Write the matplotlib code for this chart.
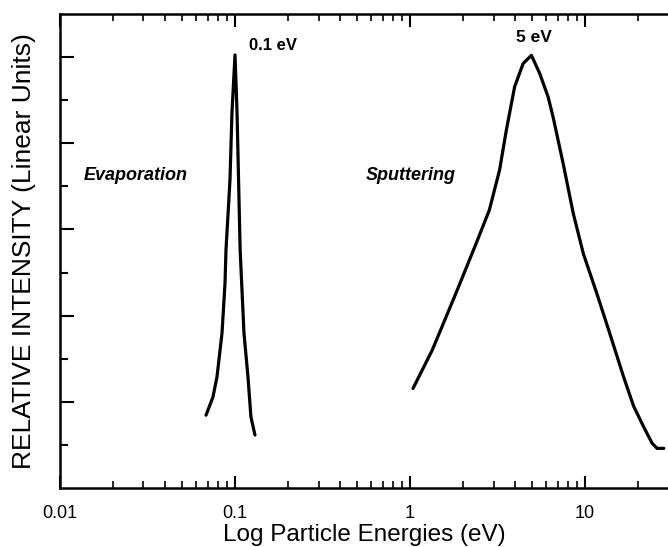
import numpy as np
import matplotlib.pyplot as plt
from matplotlib.ticker import FixedLocator, LogLocator, NullFormatter

plt.rcParams['font.family'] = ['Liberation Sans', 'DejaVu Sans']

# ---------- data ----------
evap_energy = [0.0683, 0.0748, 0.0789, 0.0843, 0.0877, 0.0888, 0.0936, 0.0961, 0.1000,
               0.1027, 0.1070, 0.1125, 0.1186, 0.1233, 0.1300]
evap_intensity = [1.69, 2.11, 2.58, 3.60, 4.76, 5.52, 7.15, 8.72, 10.05,
                  8.72, 5.52, 3.60, 2.58, 1.65, 1.23]

sput_energy = [1.04, 1.34, 1.83, 2.39, 2.84, 3.25, 3.55, 3.96, 4.43, 4.94,
               5.51, 6.15, 6.57, 7.50, 8.57, 9.78, 11.67, 13.92, 16.61,
               18.95, 21.63, 24.17, 25.8, 28.2]
sput_intensity = [2.31, 3.20, 4.52, 5.68, 6.45, 7.38, 8.30, 9.31, 9.85, 10.04,
                  9.62, 9.08, 8.61, 7.53, 6.37, 5.44, 4.52, 3.56, 2.58,
                  1.90, 1.42, 1.04, 0.92, 0.92]

xtick_vals = [0.01, 0.1, 1, 10]
xtick_labels = ["0.01", "0.1", "1", "10"]
y_major = [2, 4, 6, 8, 10]
y_minor = [1, 3, 5, 7, 9]

# ---------- plot ----------
fig = plt.figure(figsize=(6.68, 5.47), dpi=100)
ax = fig.add_axes([60 / 668, 59 / 547, 608 / 668, 474 / 547])

ax.plot(evap_energy, evap_intensity, color='black', lw=2.3,
        solid_capstyle='round', solid_joinstyle='round')
ax.plot(sput_energy, sput_intensity, color='black', lw=2.3,
        solid_capstyle='round', solid_joinstyle='round')

ax.set_xscale('log')
ax.set_xlim(0.01, 29.8)
ax.set_ylim(0, 11)

ax.set_xticks(xtick_vals)
ax.set_xticklabels(xtick_labels)
ax.xaxis.set_minor_locator(LogLocator(base=10, subs=np.arange(2, 10)))
ax.xaxis.set_minor_formatter(NullFormatter())

ax.yaxis.set_major_locator(FixedLocator(y_major))
ax.yaxis.set_minor_locator(FixedLocator(y_minor))
ax.set_yticklabels([])

ax.tick_params(axis='x', which='both', direction='in', top=True, labelsize=13, pad=12)
ax.tick_params(axis='x', which='major', length=9, width=1.5)
ax.tick_params(axis='x', which='minor', length=5, width=1.2)
ax.tick_params(axis='y', which='major', direction='in', length=10, width=1.5)
ax.tick_params(axis='y', which='minor', direction='in', length=6, width=1.5)

ax.spines['right'].set_visible(False)
for s in ['left', 'top', 'bottom']:
    ax.spines[s].set_linewidth(1.8)

ax.set_xlabel("Log Particle Energies (eV)", fontsize=17.5, labelpad=2)
ax.set_ylabel("RELATIVE INTENSITY (Linear Units)", fontsize=19, labelpad=14)

ax.text(0.165, 10.28, "0.1 eV", fontsize=12, fontweight='bold', ha='center', va='center')
ax.text(5.09, 10.46, "5 eV", fontsize=12.5, fontweight='bold', ha='center', va='center')
ax.text(0.0272, 7.26, "Evaporation", fontsize=13, fontweight='bold', style='italic',
        ha='center', va='center')
ax.text(1.01, 7.26, "Sputtering", fontsize=13, fontweight='bold', style='italic',
        ha='center', va='center')

fig.savefig("out.png", dpi=100)
